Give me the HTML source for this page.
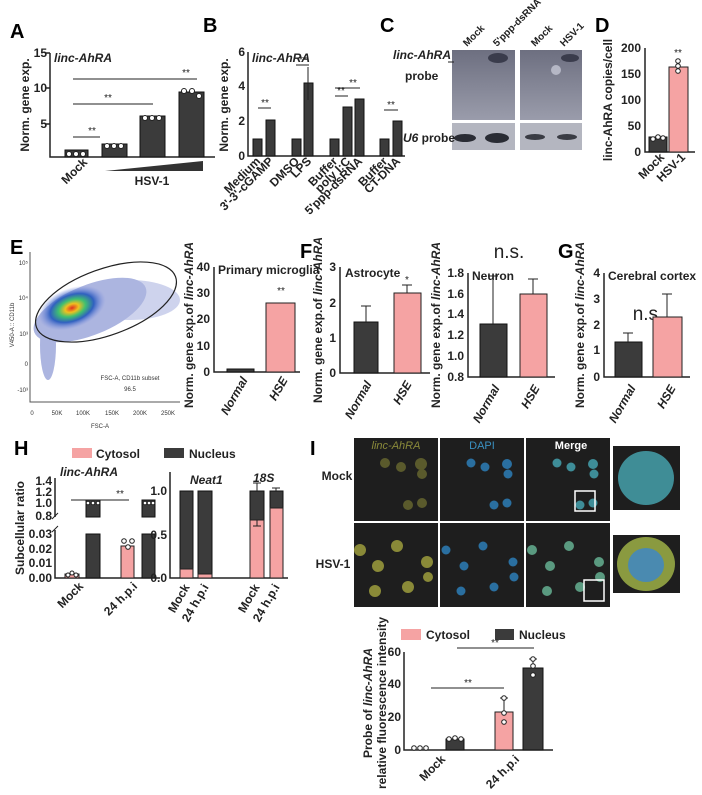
<!DOCTYPE html>
<html><head><meta charset="utf-8"><style>
body{margin:0;background:#fff;overflow:hidden}
svg{display:block;font-family:"Liberation Sans",Arial,sans-serif}
.t{font-size:12px;font-weight:bold;fill:#222}
.s{font-size:10px;fill:#222}
.L{font-size:20px;font-weight:bold}
.d{fill:#3b3b3b;stroke:#111;stroke-width:1}
.p{fill:#f5a3a3;stroke:#222;stroke-width:1}
.ax{stroke:#222;stroke-width:1.5;fill:none}
.c{fill:#fff;stroke:#222;stroke-width:1}
</style></head><body>
<svg width="702" height="795" viewBox="0 0 702 795">
<defs>
<radialGradient id="fl" cx="0.5" cy="0.5" r="0.5">
<stop offset="0" stop-color="#e03020"/><stop offset="0.2" stop-color="#f0c020"/><stop offset="0.4" stop-color="#40c070"/><stop offset="0.65" stop-color="#3060c0"/><stop offset="1" stop-color="#8090e0" stop-opacity="0"/></radialGradient>
<linearGradient id="bl" x1="0" y1="0" x2="0" y2="1"><stop offset="0" stop-color="#6d6f80"/><stop offset="1" stop-color="#9a9cab"/></linearGradient>
</defs>
<!-- A -->
<text x="10" y="38" class="L">A</text>
<path class="ax" d="M50 53V157H215"/>
<g class="t" text-anchor="end"><text x="47" y="57">15</text><text x="47" y="92">10</text><text x="47" y="128">5</text></g>
<path class="ax" d="M46 53H50M46 88H50M46 124H50"/>
<text transform="translate(29 105) rotate(-90)" class="t" text-anchor="middle">Norm. gene exp.</text>
<text x="54" y="62" class="t" font-style="italic" font-size="13">linc-AhRA</text>
<rect x="65" y="150" width="23" height="7" class="d"/><rect x="102" y="144" width="25" height="13" class="d"/><rect x="140" y="116" width="25" height="41" class="d"/><rect x="179" y="92" width="25" height="65" class="d"/>
<g class="c"><circle cx="69" cy="154" r="2.5"/><circle cx="76" cy="154" r="2.5"/><circle cx="83" cy="154" r="2.5"/><circle cx="107" cy="146" r="2.5"/><circle cx="114" cy="146" r="2.5"/><circle cx="121" cy="146" r="2.5"/><circle cx="145" cy="118" r="2.5"/><circle cx="152" cy="118" r="2.5"/><circle cx="159" cy="118" r="2.5"/><circle cx="184" cy="91" r="2.5"/><circle cx="192" cy="91" r="2.5"/><circle cx="199" cy="96" r="2.5"/></g>
<path stroke="#222" d="M73 79H197M73 104H153M73 137H100"/>
<g class="s" text-anchor="middle"><text x="186" y="76">**</text><text x="108" y="101">**</text><text x="92" y="134">**</text></g>
<path d="M105 171L203 161V171Z" fill="#333"/>
<text x="152" y="185" class="t" text-anchor="middle" font-size="13">HSV-1</text>
<text transform="translate(88 163) rotate(-45)" class="t" text-anchor="end">Mock</text>
<!-- B -->
<text x="203" y="32" class="L">B</text>
<path class="ax" d="M248 52V156H405"/>
<g class="t" text-anchor="end"><text x="245" y="56">6</text><text x="245" y="90">4</text><text x="245" y="125">2</text><text x="245" y="160">0</text></g>
<text transform="translate(228 105) rotate(-90)" class="t" text-anchor="middle">Norm. gene exp.</text>
<text x="252" y="62" class="t" font-style="italic" font-size="13">linc-AhRA</text>
<rect x="253" y="139" width="9" height="17" class="d"/><rect x="266" y="120" width="9" height="36" class="d"/><rect x="292" y="139" width="9" height="17" class="d"/><rect x="304" y="83" width="9" height="73" class="d"/><rect x="330" y="139" width="9" height="17" class="d"/><rect x="343" y="107" width="9" height="49" class="d"/><rect x="355" y="99" width="9" height="57" class="d"/><rect x="380" y="139" width="9" height="17" class="d"/><rect x="393" y="121" width="9" height="35" class="d"/>
<path stroke="#222" d="M258 108H271M296 65H309M335 96H348M335 88H360M384 110H398M308 67V100"/>
<g class="s" text-anchor="middle"><text x="265" y="106">**</text><text x="303" y="63">**</text><text x="341" y="94">**</text><text x="353" y="86">**</text><text x="391" y="108">**</text></g>
<g class="t" text-anchor="end" font-size="11">
<text transform="translate(261 162) rotate(-45)">Medium</text><text transform="translate(274 162) rotate(-45)">3'-3'-cGAMP</text><text transform="translate(300 162) rotate(-45)">DMSO</text><text transform="translate(312 162) rotate(-45)">LPS</text><text transform="translate(338 162) rotate(-45)">Buffer</text><text transform="translate(351 162) rotate(-45)">poly I:C</text><text transform="translate(363 162) rotate(-45)">5'ppp-dsRNA</text><text transform="translate(388 162) rotate(-45)">Buffer</text><text transform="translate(401 162) rotate(-45)">CT-DNA</text></g>
<!-- C -->
<text x="380" y="32" class="L">C</text>
<rect x="452" y="50" width="63" height="70" fill="url(#bl)"/><rect x="520" y="50" width="62" height="70" fill="url(#bl)"/>
<rect x="452" y="123" width="63" height="27" fill="#b4b6c0"/><rect x="520" y="123" width="62" height="27" fill="#b4b6c0"/>
<ellipse cx="498" cy="58" rx="10" ry="5" fill="#3a3c4c"/><ellipse cx="570" cy="58" rx="9" ry="4" fill="#3a3c4c"/><ellipse cx="556" cy="70" rx="5" ry="5" fill="#b5b7c5"/>
<ellipse cx="465" cy="138" rx="11" ry="4" fill="#2a2c34"/><ellipse cx="497" cy="138" rx="12" ry="5" fill="#2a2c34"/><ellipse cx="535" cy="137" rx="10" ry="3" fill="#3a3c44"/><ellipse cx="567" cy="137" rx="10" ry="3" fill="#3a3c44"/>
<text x="393" y="59" class="t" font-style="italic">linc-AhRA</text><path d="M448 62H454" stroke="#222"/>
<text x="405" y="80" class="t">probe</text>
<text x="403" y="142" class="t"><tspan font-style="italic">U6</tspan> probe</text>
<g class="s" font-weight="bold"><text transform="translate(467 47) rotate(-45)">Mock</text><text transform="translate(497 47) rotate(-45)">5'ppp-dsRNA</text><text transform="translate(535 47) rotate(-45)">Mock</text><text transform="translate(564 47) rotate(-45)">HSV-1</text></g>
<!-- D -->
<text x="595" y="32" class="L">D</text>
<path class="ax" d="M645 48V152H695"/>
<g class="t" text-anchor="end"><text x="641" y="52">200</text><text x="641" y="78">150</text><text x="641" y="104">100</text><text x="641" y="130">50</text><text x="641" y="156">0</text></g>
<text transform="translate(612 100) rotate(-90)" class="t" font-size="11" text-anchor="middle">linc-AhRA copies/cell</text>
<rect x="649" y="137" width="18" height="15" class="d"/><rect x="669" y="67" width="19" height="85" class="p"/>
<g class="c"><circle cx="653" cy="139" r="2.3"/><circle cx="658" cy="137" r="2.3"/><circle cx="663" cy="138" r="2.3"/><circle cx="678" cy="61" r="2.3"/><circle cx="678" cy="66" r="2.3"/><circle cx="678" cy="71" r="2.3"/></g>
<text x="678" y="56" class="s" text-anchor="middle">**</text>
<text transform="translate(665 158) rotate(-45)" class="t" text-anchor="end">Mock</text><text transform="translate(686 158) rotate(-45)" class="t" text-anchor="end">HSV-1</text>
<!-- E -->
<text x="10" y="254" class="L">E</text>
<path d="M30 252V402H180" stroke="#555" fill="none"/>
<g fill="#6a7ac8" opacity="0.55"><ellipse cx="90" cy="310" rx="60" ry="25" transform="rotate(-22 90 310)"/><ellipse cx="48" cy="345" rx="8" ry="35"/><ellipse cx="130" cy="300" rx="50" ry="20" opacity="0.6"/></g>
<ellipse cx="72" cy="308" rx="35" ry="20" fill="url(#fl)" transform="rotate(-20 72 308)"/>
<ellipse cx="106" cy="302" rx="74" ry="33" transform="rotate(-20 106 302)" fill="none" stroke="#222" stroke-width="1.2"/>
<g font-size="6" fill="#333" text-anchor="end"><text x="28" y="265">10⁵</text><text x="28" y="300">10⁴</text><text x="28" y="336">10³</text><text x="28" y="366">0</text><text x="28" y="392">-10³</text></g>
<g font-size="6" fill="#333" text-anchor="middle"><text x="32" y="415">0</text><text x="57" y="415">50K</text><text x="83" y="415">100K</text><text x="112" y="415">150K</text><text x="140" y="415">200K</text><text x="168" y="415">250K</text><text x="100" y="428">FSC-A</text><text x="130" y="380">FSC-A, CD11b subset</text><text x="130" y="391">96.5</text></g>
<text transform="translate(14 325) rotate(-90)" font-size="6" fill="#333" text-anchor="middle">V450-A :: CD11b</text>
<path class="ax" d="M214 267V372H300"/>
<g class="t" text-anchor="end"><text x="210" y="271">40</text><text x="210" y="297">30</text><text x="210" y="323">20</text><text x="210" y="350">10</text><text x="210" y="376">0</text></g>
<text transform="translate(193 325) rotate(-90)" class="t" text-anchor="middle">Norm. gene exp.of <tspan font-style="italic">linc-AhRA</tspan></text>
<text x="218" y="274" class="t" font-size="11">Primary microglia</text>
<rect x="227" y="369" width="27" height="3" class="d"/><rect x="266" y="303" width="29" height="69" class="p"/>
<text x="281" y="294" class="s" text-anchor="middle">**</text>
<text transform="translate(248 380) rotate(-60)" class="t" text-anchor="end" font-style="italic">Normal</text><text transform="translate(288 380) rotate(-60)" class="t" text-anchor="end" font-style="italic">HSE</text>
<!-- F -->
<text x="300" y="258" class="L">F</text>
<path class="ax" d="M340 267V373H430"/>
<g class="t" text-anchor="end"><text x="336" y="271">3</text><text x="336" y="307">2</text><text x="336" y="342">1</text><text x="336" y="377">0</text></g>
<text transform="translate(322 320) rotate(-90)" class="t" text-anchor="middle">Norm. gene exp.of <tspan font-style="italic">linc-AhRA</tspan></text>
<text x="345" y="277" class="t" font-size="11">Astrocyte</text>
<rect x="354" y="322" width="24" height="51" class="d"/><rect x="394" y="293" width="27" height="80" class="p"/>
<path stroke="#222" d="M366 322V306M361 306H371M407 293V285M402 285H412"/>
<text x="407" y="283" class="s" text-anchor="middle">*</text>
<text transform="translate(372 384) rotate(-60)" class="t" text-anchor="end" font-style="italic">Normal</text><text transform="translate(412 384) rotate(-60)" class="t" text-anchor="end" font-style="italic">HSE</text>
<path class="ax" d="M468 273V377H555"/>
<g class="t" text-anchor="end"><text x="464" y="277">1.8</text><text x="464" y="298">1.6</text><text x="464" y="318">1.4</text><text x="464" y="339">1.2</text><text x="464" y="360">1.0</text><text x="464" y="381">0.8</text></g>
<text transform="translate(440 325) rotate(-90)" class="t" text-anchor="middle">Norm. gene exp.of <tspan font-style="italic">linc-AhRA</tspan></text>
<text x="472" y="280" class="t" font-size="11">Neuron</text>
<text x="509" y="258" font-size="19" text-anchor="middle" fill="#222">n.s.</text>
<rect x="480" y="324" width="27" height="53" class="d"/><rect x="520" y="294" width="27" height="83" class="p"/>
<path stroke="#222" d="M493 324V276M488 276H498M533 294V279M528 279H538"/>
<text transform="translate(500 388) rotate(-60)" class="t" text-anchor="end" font-style="italic">Normal</text><text transform="translate(540 388) rotate(-60)" class="t" text-anchor="end" font-style="italic">HSE</text>
<!-- G -->
<text x="558" y="258" class="L">G</text>
<path class="ax" d="M604 273V377H690"/>
<g class="t" text-anchor="end"><text x="600" y="277">4</text><text x="600" y="303">3</text><text x="600" y="329">2</text><text x="600" y="354">1</text><text x="600" y="381">0</text></g>
<text transform="translate(584 325) rotate(-90)" class="t" text-anchor="middle">Norm. gene exp.of <tspan font-style="italic">linc-AhRA</tspan></text>
<text x="608" y="280" class="t" font-size="11">Cerebral cortex</text>
<text x="648" y="320" font-size="19" text-anchor="middle" fill="#222">n.s.</text>
<rect x="615" y="342" width="27" height="35" class="d"/><rect x="653" y="317" width="29" height="60" class="p"/>
<path stroke="#222" d="M628 342V333M623 333H633M667 317V294M662 294H672"/>
<text transform="translate(636 388) rotate(-60)" class="t" text-anchor="end" font-style="italic">Normal</text><text transform="translate(676 388) rotate(-60)" class="t" text-anchor="end" font-style="italic">HSE</text>
<!-- H -->
<text x="14" y="455" class="L">H</text>
<rect x="72" y="448" width="20" height="10" fill="#f5a3a3"/><text x="96" y="458" class="t" font-weight="normal" font-size="13">Cytosol</text>
<rect x="164" y="448" width="20" height="10" fill="#3b3b3b"/><text x="189" y="458" class="t" font-weight="normal" font-size="13">Nucleus</text>
<path class="ax" d="M55 478V517M55 530V578H160"/>
<path stroke="#222" d="M52 519L58 513M52 532L58 526"/>
<g class="t" text-anchor="end" font-size="11"><text x="52" y="485">1.4</text><text x="52" y="496">1.2</text><text x="52" y="507">1.0</text><text x="52" y="520">0.8</text><text x="52" y="538">0.03</text><text x="52" y="553">0.02</text><text x="52" y="567">0.01</text><text x="52" y="582">0.00</text></g>
<text transform="translate(24 528) rotate(-90)" class="t" text-anchor="middle">Subcellular ratio</text>
<text x="60" y="476" class="t" font-style="italic">linc-AhRA</text>
<rect x="65" y="574" width="14" height="4" class="p"/><rect x="86" y="500" width="14" height="17" class="d"/><rect x="86" y="534" width="14" height="44" class="d"/>
<rect x="121" y="546" width="13" height="32" class="p"/><rect x="142" y="500" width="13" height="17" class="d"/><rect x="142" y="534" width="13" height="44" class="d"/>
<path stroke="#222" d="M71 500H129"/><text x="120" y="497" class="s" text-anchor="middle">**</text>
<g class="c"><circle cx="88" cy="503" r="1.8"/><circle cx="93" cy="503" r="1.8"/><circle cx="98" cy="503" r="1.8"/><circle cx="145" cy="503" r="1.8"/><circle cx="149" cy="503" r="1.8"/><circle cx="153" cy="503" r="1.8"/><circle cx="68" cy="575" r="2"/><circle cx="72" cy="573" r="2"/><circle cx="76" cy="575" r="2"/><circle cx="124" cy="541" r="2.3"/><circle cx="128" cy="547" r="2.3"/><circle cx="132" cy="541" r="2.3"/></g>
<text transform="translate(84 587) rotate(-45)" class="t" text-anchor="end">Mock</text><text transform="translate(138 587) rotate(-45)" class="t" text-anchor="end">24 h.p.i</text>
<path class="ax" d="M170 472V578H288"/>
<g class="t" text-anchor="end" font-size="11"><text x="167" y="495">1.0</text><text x="167" y="539">0.5</text><text x="167" y="582">0.0</text></g>
<text x="190" y="484" class="t" font-style="italic">Neat1</text><text x="253" y="482" class="t" font-style="italic">18S</text>
<rect x="180" y="491" width="13" height="78" class="d"/><rect x="180" y="569" width="13" height="9" class="p"/>
<rect x="198" y="491" width="14" height="83" class="d"/><rect x="198" y="574" width="14" height="4" class="p"/>
<rect x="250" y="491" width="14" height="29" class="d"/><rect x="250" y="520" width="14" height="58" class="p"/>
<rect x="270" y="491" width="13" height="17" class="d"/><rect x="270" y="508" width="13" height="70" class="p"/>
<path stroke="#222" d="M257 491V483M253 483H261M276 491V488M272 488H280M257 520V526M253 526H261"/>
<text transform="translate(190 587) rotate(-60)" class="t" text-anchor="end">Mock</text><text transform="translate(209 587) rotate(-60)" class="t" text-anchor="end">24 h.p.i</text>
<text transform="translate(260 587) rotate(-60)" class="t" text-anchor="end">Mock</text><text transform="translate(280 587) rotate(-60)" class="t" text-anchor="end">24 h.p.i</text>
<!-- I -->
<text x="310" y="455" class="L">I</text>
<g fill="#1e1e1e"><rect x="354" y="438" width="84" height="83"/><rect x="440" y="438" width="84" height="83"/><rect x="526" y="438" width="84" height="83"/><rect x="354" y="523" width="84" height="84"/><rect x="440" y="523" width="84" height="84"/><rect x="526" y="523" width="84" height="84"/><rect x="613" y="446" width="67" height="64"/><rect x="613" y="535" width="67" height="58"/></g>
<g fill="#6a6a30" opacity="0.8"><circle cx="385" cy="463" r="5"/><circle cx="401" cy="467" r="5"/><circle cx="421" cy="464" r="6"/><circle cx="422" cy="474" r="5"/><circle cx="408" cy="505" r="5"/><circle cx="422" cy="503" r="5"/></g>
<g fill="#2a6fa0"><circle cx="471" cy="463" r="4.5"/><circle cx="485" cy="467" r="4.5"/><circle cx="507" cy="464" r="5"/><circle cx="508" cy="474" r="4.5"/><circle cx="494" cy="505" r="4.5"/><circle cx="507" cy="503" r="4.5"/></g>
<g fill="#3e8d98"><circle cx="557" cy="463" r="4.5"/><circle cx="571" cy="467" r="4.5"/><circle cx="593" cy="464" r="5"/><circle cx="594" cy="474" r="4.5"/><circle cx="580" cy="505" r="4.5"/><circle cx="593" cy="503" r="4.5"/></g>
<rect x="575" y="491" width="20" height="20" fill="none" stroke="#fff" stroke-width="1.5"/>
<g fill="#8a8a38"><circle cx="360" cy="550" r="6"/><circle cx="397" cy="546" r="6"/><circle cx="378" cy="566" r="6"/><circle cx="427" cy="562" r="6"/><circle cx="375" cy="591" r="6"/><circle cx="408" cy="587" r="6"/><circle cx="428" cy="577" r="5"/></g>
<g fill="#2a6fa0"><circle cx="446" cy="550" r="4.5"/><circle cx="483" cy="546" r="4.5"/><circle cx="464" cy="566" r="4.5"/><circle cx="513" cy="562" r="4.5"/><circle cx="461" cy="591" r="4.5"/><circle cx="494" cy="587" r="4.5"/><circle cx="514" cy="577" r="4.5"/></g>
<g fill="#5a9a80"><circle cx="532" cy="550" r="5"/><circle cx="569" cy="546" r="5"/><circle cx="550" cy="566" r="5"/><circle cx="599" cy="562" r="5"/><circle cx="547" cy="591" r="5"/><circle cx="580" cy="587" r="5"/><circle cx="600" cy="577" r="5"/></g>
<rect x="584" y="580" width="20" height="21" fill="none" stroke="#fff" stroke-width="1.5"/>
<ellipse cx="646" cy="478" rx="28" ry="27" fill="#3f8d96"/><ellipse cx="646" cy="564" rx="29" ry="27" fill="#8a9a40"/><ellipse cx="646" cy="565" rx="18" ry="17" fill="#4a8ab0"/>
<text x="396" y="449" font-size="11" fill="#8a8a3a" font-style="italic" text-anchor="middle">linc-AhRA</text>
<text x="482" y="449" font-size="11" fill="#3a90c0" text-anchor="middle">DAPI</text>
<text x="571" y="449" font-size="11" fill="#fff" font-weight="bold" text-anchor="middle">Merge</text>
<text x="337" y="480" class="t" text-anchor="middle">Mock</text><text x="333" y="568" class="t" text-anchor="middle">HSV-1</text>
<rect x="401" y="629" width="20" height="11" fill="#f5a3a3"/><text x="426" y="639" class="t" font-weight="normal" font-size="13">Cytosol</text>
<rect x="495" y="629" width="19" height="11" fill="#3b3b3b"/><text x="519" y="639" class="t" font-weight="normal" font-size="13">Nucleus</text>
<path class="ax" d="M404 652V750H553"/>
<g class="t" text-anchor="end" font-size="11"><text x="401" y="656">60</text><text x="401" y="688">40</text><text x="401" y="721">20</text><text x="401" y="754">0</text></g>
<text transform="translate(372 703) rotate(-90)" class="t" font-size="11" text-anchor="middle">Probe of <tspan font-style="italic">linc-AhRA</tspan></text>
<text transform="translate(386 703) rotate(-90)" class="t" font-size="11" text-anchor="middle">relative  fluorescence intensity</text>
<rect x="446" y="739" width="18" height="11" class="d"/><rect x="495" y="712" width="18" height="38" class="p"/><rect x="523" y="668" width="20" height="82" class="d"/>
<path stroke="#222" d="M431 688H504M457 648H534M504 712V698M500 698H508M533 668V659M529 659H537"/>
<g class="s" text-anchor="middle"><text x="468" y="686">**</text><text x="495" y="646">**</text></g>
<g class="c"><circle cx="414" cy="748" r="2.3"/><circle cx="420" cy="748" r="2.3"/><circle cx="426" cy="748" r="2.3"/><circle cx="449" cy="739" r="2.3"/><circle cx="455" cy="738" r="2.3"/><circle cx="461" cy="739" r="2.3"/><circle cx="504" cy="698" r="2.3"/><circle cx="504" cy="713" r="2.3"/><circle cx="504" cy="722" r="2.3"/><circle cx="533" cy="659" r="2.3"/><circle cx="533" cy="666" r="2.3"/><circle cx="533" cy="675" r="2.3"/></g>
<text transform="translate(446 760) rotate(-45)" class="t" text-anchor="end">Mock</text><text transform="translate(520 760) rotate(-45)" class="t" text-anchor="end">24 h.p.i</text>
</svg>
</body></html>
